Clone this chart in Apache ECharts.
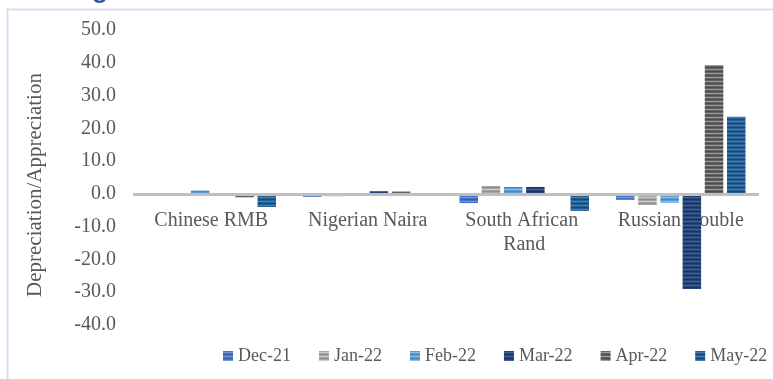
<!DOCTYPE html>
<html>
<head>
<meta charset="utf-8">
<script src="https://cdn.jsdelivr.net/npm/echarts@6/dist/echarts.min.js"></script>
<style>
  html, body { margin: 0; padding: 0; background: #ffffff; }
  #chart { width: 773px; height: 379px; }
</style>
</head>
<body>
<div id="chart"></div>
<script>
// Currency moves against the US dollar, by month
const currencies = ['Chinese RMB', 'Nigerian Naira', 'South African Rand', 'Russian Rouble'];
const months = ['Dec-21', 'Jan-22', 'Feb-22', 'Mar-22', 'Apr-22', 'May-22'];

const dec21 = [0.0, -0.9, -2.8, -1.8];
const jan22 = [0.0, -0.7, 2.4, -3.4];
const feb22 = [1.0, 0.0, 2.1, -2.7];
const mar22 = [0.0, 0.8, 2.1, -29.0];
const apr22 = [-1.1, 0.7, 0.0, 39.3];
const may22 = [-4.0, 0.0, -5.2, 23.5];

const yTicks = [-40, -30, -20, -10, 0, 10, 20, 30, 40, 50];

const seriesValues = [dec21, jan22, feb22, mar22, apr22, may22];

// base / highlight / shadow tones for the striped bar fills
const palette = [
  ['#4472c4', '#7398da', '#3a62aa'],
  ['#a5a5a5', '#cbcbcb', '#8e8e8e'],
  ['#5b9bd5', '#8bbbe6', '#4c87bc'],
  ['#264478', '#40629c', '#1c335c'],
  ['#636363', '#9a9a9a', '#4c4c4c'],
  ['#255e91', '#467fb3', '#1b4870']
];

function stripePattern(tones) {
  const c = document.createElement('canvas');
  c.width = 4;
  c.height = 4;
  const ctx = c.getContext('2d');
  const rows = [tones[0], tones[1], tones[0], tones[2]];
  rows.forEach(function (col, i) {
    ctx.fillStyle = col;
    ctx.fillRect(0, i, 4, 1);
  });
  return { image: c, repeat: 'repeat' };
}

const FONT = '"Liberation Serif", "DejaVu Serif", serif';
const TEXT = '#595959';

const chart = echarts.init(document.getElementById('chart'), null, { renderer: 'canvas' });

const series = months.map(function (m, i) {
  return {
    name: m,
    type: 'bar',
    data: seriesValues[i],
    barWidth: 18.5,
    barGap: '20%',
    itemStyle: { color: stripePattern(palette[i]) },
    z: 2
  };
});

// zero line drawn over the bars
series[0].markLine = {
  silent: true,
  symbol: ['none', 'none'],
  label: { show: false },
  lineStyle: { color: '#bfbfbf', width: 3, type: 'solid' },
  data: [{ yAxis: 0 }],
  z: 5
};

chart.setOption({
  animation: false,
  backgroundColor: '#ffffff',
  textStyle: { fontFamily: FONT },
  grid: { left: 133, right: 14, top: 30, bottom: 54, containLabel: false },
  legend: {
    data: months,
    left: 218,
    top: 342,
    itemWidth: 10,
    itemHeight: 10,
    itemGap: 28,
    icon: 'rect',
    textStyle: { fontFamily: FONT, fontSize: 18, color: TEXT }
  },
  xAxis: {
    type: 'category',
    data: currencies,
    position: 'bottom',
    offset: 0,
    axisLine: { show: false, onZero: false },
    axisTick: { show: false },
    axisLabel: {
      interval: 0,
      margin: 12,
      fontFamily: FONT,
      fontSize: 20,
      lineHeight: 24,
      color: TEXT,
      width: 150,
      overflow: 'break'
    }
  },
  yAxis: {
    type: 'value',
    min: yTicks[0],
    max: yTicks[yTicks.length - 1],
    interval: 10,
    splitLine: { show: false },
    axisLine: { show: false },
    axisTick: { show: false },
    axisLabel: {
      margin: 17,
      fontFamily: FONT,
      fontSize: 20,
      color: TEXT,
      formatter: function (v) { return v.toFixed(1); }
    }
  },
  series: series,
  graphic: [
    {
      type: 'rect',
      silent: true,
      shape: { x: 7.5, y: 9.5, width: 900, height: 500 },
      style: { fill: 'none', stroke: '#d6e0f2', lineWidth: 2 },
      z: -1
    },
    {
      type: 'text',
      silent: true,
      style: {
        text: 'g',
        x: 100,
        y: -22,
        align: 'center',
        verticalAlign: 'top',
        font: 'bold 26px "Liberation Sans", sans-serif',
        fill: '#2f5597'
      }
    },
    {
      type: 'text',
      silent: true,
      x: 35,
      y: 185,
      rotation: Math.PI / 2,
      style: {
        text: 'Depreciation/Appreciation',
        x: 0,
        y: 0,
        align: 'center',
        verticalAlign: 'middle',
        font: '21px ' + FONT,
        fill: TEXT
      }
    }
  ]
});

// Lift the category labels from the plot's lower edge up to the zero line
const zeroY = chart.convertToPixel({ yAxisIndex: 0 }, 0);
const baseY = chart.convertToPixel({ yAxisIndex: 0 }, yTicks[0]);
chart.setOption({ xAxis: { offset: -(baseY - zeroY) } });
</script>
</body>
</html>
